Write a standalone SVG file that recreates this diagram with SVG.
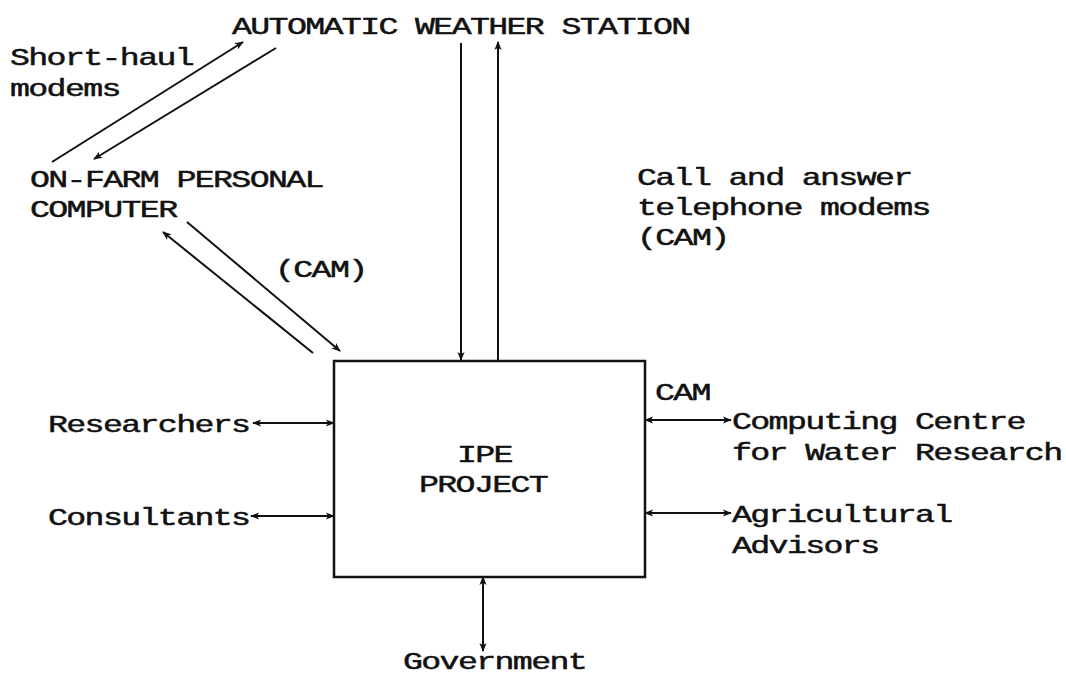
<svg xmlns="http://www.w3.org/2000/svg" width="1066" height="677" viewBox="0 0 1066 677">
  <style>
    /* wide monospace lettering: 18.3px advance, squat glyphs, medium weight */
    text { font-family: "Liberation Mono", "Courier New", monospace; font-size: 30.5px; letter-spacing: -1.5px; fill: #111; stroke: #111; stroke-width: 0.6px; }
    .ln { stroke: #111; stroke-width: 2; fill: none; }
    .box { stroke: #111; stroke-width: 2.5; fill: #fff; }
  </style>
  <defs>
    <marker id="ah" viewBox="0 0 10 10" refX="9" refY="5" markerUnits="userSpaceOnUse" markerWidth="11" markerHeight="9" orient="auto-start-reverse">
      <path d="M0,1 L10,5 L0,9 L2.5,5 Z" fill="#111"/>
    </marker>
  </defs>

  <rect width="1066" height="677" fill="#fff"/>

  <!-- connectors and their labels -->
  <g id="connectors">
    <line class="ln" x1="52" y1="162" x2="243" y2="42" marker-end="url(#ah)"/>
    <line class="ln" x1="276" y1="48" x2="94" y2="159" marker-end="url(#ah)"/>
    <line class="ln" x1="187" y1="222" x2="340" y2="351" marker-end="url(#ah)"/>
    <line class="ln" x1="313" y1="353" x2="163" y2="232" marker-end="url(#ah)"/>
    <line class="ln" x1="461" y1="43" x2="461" y2="360" marker-end="url(#ah)"/>
    <line class="ln" x1="498" y1="361" x2="498" y2="42" marker-end="url(#ah)"/>
    <line class="ln" x1="253" y1="423" x2="334" y2="423" marker-start="url(#ah)" marker-end="url(#ah)"/>
    <line class="ln" x1="251" y1="516" x2="334" y2="516" marker-start="url(#ah)" marker-end="url(#ah)"/>
    <line class="ln" x1="645" y1="420" x2="731" y2="420" marker-start="url(#ah)" marker-end="url(#ah)"/>
    <line class="ln" x1="645" y1="513" x2="731" y2="513" marker-start="url(#ah)" marker-end="url(#ah)"/>
    <line class="ln" x1="483" y1="577" x2="483" y2="651" marker-start="url(#ah)" marker-end="url(#ah)"/>
    <text transform="translate(275,277) scale(1.09,0.77)">(CAM)</text>
    <text transform="translate(655,400) scale(1.09,0.77)">CAM</text>
    <text transform="translate(10,65) scale(1.09,0.77)">Short-haul</text>
    <text transform="translate(10,96) scale(1.09,0.77)">modems</text>
    <text transform="translate(637,185) scale(1.09,0.77)">Call and answer</text>
    <text transform="translate(637,215) scale(1.09,0.77)">telephone modems</text>
    <text transform="translate(637,245) scale(1.09,0.77)">(CAM)</text>
  </g>

  <g id="weather-station">
    <text transform="translate(232,34) scale(1.09,0.77)">AUTOMATIC WEATHER STATION</text>
  </g>

  <g id="farm-computer">
    <text transform="translate(30,187) scale(1.09,0.77)">ON-FARM PERSONAL</text>
    <text transform="translate(30,217) scale(1.09,0.77)">COMPUTER</text>
  </g>

  <g id="ipe-project">
    <rect class="box" x="334" y="361" width="311" height="216"/>
    <text transform="translate(457,462) scale(1.09,0.77)">IPE</text>
    <text transform="translate(419,492) scale(1.09,0.77)">PROJECT</text>
  </g>

  <g id="researchers">
    <text transform="translate(48,432) scale(1.09,0.77)">Researchers</text>
  </g>

  <g id="consultants">
    <text transform="translate(48,525) scale(1.09,0.77)">Consultants</text>
  </g>

  <g id="computing-centre">
    <text transform="translate(732,429) scale(1.09,0.77)">Computing Centre</text>
    <text transform="translate(732,460) scale(1.09,0.77)">for Water Research</text>
  </g>

  <g id="agricultural-advisors">
    <text transform="translate(732,522) scale(1.09,0.77)">Agricultural</text>
    <text transform="translate(732,553) scale(1.09,0.77)">Advisors</text>
  </g>

  <g id="government">
    <text transform="translate(403,669) scale(1.09,0.77)">Government</text>
  </g>
</svg>
